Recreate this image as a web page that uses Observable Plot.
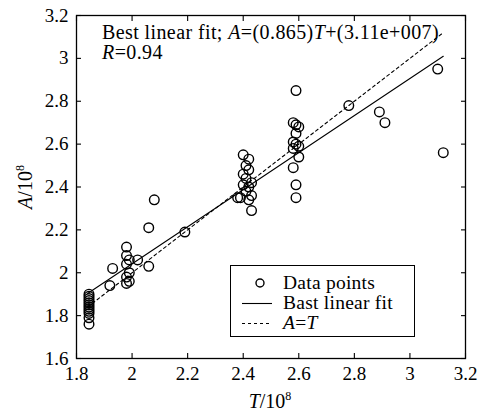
<!DOCTYPE html>
<html><head><meta charset="utf-8">
<script src="https://cdn.jsdelivr.net/npm/d3@7"></script>
<script src="https://cdn.jsdelivr.net/npm/@observablehq/plot@0.6"></script>
<style>
html,body{margin:0;padding:0;background:#fff;}
#wrap{position:relative;width:484px;height:414px;font-family:"Liberation Serif",serif;color:#000;}
.ov{position:absolute;white-space:nowrap;font-size:20px;line-height:19px;}
sup{font-size:12px;vertical-align:0;position:relative;top:-8px;}
i{font-style:italic;}
#legend{position:absolute;border:1.3px solid #000;background:#fff;box-sizing:border-box;}
#legend .row{position:absolute;left:0;height:20px;display:flex;align-items:center;font-size:19.5px;letter-spacing:0.25px;}
</style></head>
<body><div id="wrap"></div>
<script>
// Data points (units of 1e8)
const pointT = [
  1.845,1.845,1.845,1.845,1.845,1.845,1.845,1.845,1.845,1.845,1.845,1.845,
  1.92,1.93,
  1.98,1.98,1.99,1.98,1.99,1.98,1.99,1.98,
  2.02,2.06,2.06,2.08,2.19,
  2.40,2.42,2.41,2.42,2.40,2.41,2.43,2.40,2.42,2.41,2.43,2.39,2.42,2.43,2.38,
  2.59,2.58,2.59,2.60,2.59,2.58,2.59,2.60,2.58,2.60,2.58,2.59,2.59,
  2.78,2.89,2.91,3.10,3.12
];
const pointA = [
  1.90,1.89,1.88,1.87,1.86,1.85,1.84,1.83,1.82,1.81,1.79,1.76,
  1.94,2.02,
  2.12,2.08,2.06,2.04,2.00,1.98,1.96,1.95,
  2.06,2.03,2.21,2.34,2.19,
  2.55,2.53,2.50,2.48,2.46,2.44,2.42,2.41,2.40,2.38,2.36,2.35,2.34,2.29,2.35,
  2.85,2.70,2.69,2.68,2.65,2.61,2.60,2.59,2.58,2.54,2.49,2.41,2.35,
  2.78,2.75,2.70,2.95,2.56
];
// Line endpoints
const lineT = [1.84, 3.12];
const fitA = [1.903, 3.01];      // best linear fit A = 0.865T + 0.311
const identA = [1.84, 3.12];     // A = T
const xTicks = [1.8,2,2.2,2.4,2.6,2.8,3,3.2];
const yTicks = [1.6,1.8,2,2.2,2.4,2.6,2.8,3,3.2];
const fitText = "Best linear fit; ";
const legendLabels = ["Data points","Bast linear fit"];

const points = pointT.map((t,i)=>({T:t,A:pointA[i]}));
const fitLine = lineT.map((t,i)=>({T:t,A:fitA[i]}));
const identLine = lineT.map((t,i)=>({T:t,A:identA[i]}));
const fmt = d => String(d);

const chart = Plot.plot({
  width:484, height:414,
  marginLeft:76, marginRight:19, marginTop:15, marginBottom:56,
  style:{fontFamily:"'Liberation Serif', serif", fontSize:"19px", background:"#fff", color:"#000"},
  x:{domain:[1.8,3.2]},
  y:{domain:[1.6,3.2]},
  marks:[
    Plot.line(fitLine,{x:"T",y:"A",stroke:"#000",strokeWidth:1.1}),
    Plot.line(identLine,{x:"T",y:"A",stroke:"#000",strokeWidth:1.1,strokeDasharray:"3,3"}),
    Plot.dot(points,{x:"T",y:"A",r:4.8,stroke:"#000",strokeWidth:1.4,fill:"none"}),
    Plot.axisX({ticks:xTicks,tickSize:-5,tickPadding:13,tickFormat:fmt,label:null,stroke:"#000",strokeWidth:1.1}),
    Plot.axisX({anchor:"top",ticks:xTicks,tickSize:-5,tickFormat:()=>"",label:null,strokeWidth:1.1}),
    Plot.axisY({ticks:yTicks,tickSize:-5,tickPadding:13,tickFormat:fmt,label:null,strokeWidth:1.1}),
    Plot.axisY({anchor:"right",ticks:yTicks,tickSize:-5,tickFormat:()=>"",label:null,strokeWidth:1.1}),
    Plot.frame({stroke:"#000",strokeWidth:1.3})
  ]
});
const wrap = document.getElementById("wrap");
wrap.appendChild(chart);

function addDiv(html, css){
  const d=document.createElement("div"); d.className="ov"; d.innerHTML=html; Object.assign(d.style,css); wrap.appendChild(d); return d;
}
addDiv(fitText+'<i>A</i>=(0.865)<i>T</i>+(3.11e+007)',{left:"102px",top:"23px",letterSpacing:"0.4px"});
addDiv('<i>R</i>=0.94',{left:"102px",top:"43px",letterSpacing:"0.4px"});
addDiv('<i>T</i>/10<sup>8</sup>',{left:"270px",top:"392px",transform:"translateX(-50%)"});
addDiv('<i>A</i>/10<sup>8</sup>',{left:"27px",top:"187px",transform:"translate(-50%,-50%) rotate(-90deg)"});

// legend
const lg=document.createElement("div"); lg.id="legend";
Object.assign(lg.style,{left:"230px",top:"265px",width:"185px",height:"72px"});
const sym=[
 '<svg width="42" height="20"><circle cx="29" cy="10" r="4" fill="none" stroke="#000" stroke-width="1.4"/></svg>',
 '<svg width="42" height="20"><line x1="11" x2="41" y1="10.5" y2="10.5" stroke="#000" stroke-width="1.1"/></svg>',
 '<svg width="42" height="20"><line x1="11" x2="41" y1="10.5" y2="10.5" stroke="#000" stroke-width="1.1" stroke-dasharray="3,3"/></svg>'
];
const labs=[legendLabels[0],legendLabels[1],'<i>A</i>=<i>T</i>'];
labs.forEach((l,i)=>{
  const r=document.createElement("div"); r.className="row";
  r.style.top=(7+i*20)+"px";
  r.innerHTML=sym[i]+'<span style="margin-left:10px">'+l+'</span>';
  lg.appendChild(r);
});
wrap.appendChild(lg);
</script></body></html>
